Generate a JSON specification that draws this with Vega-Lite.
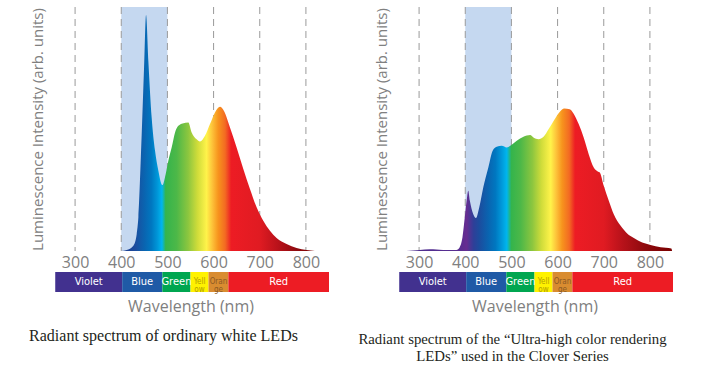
{
  "$schema": "https://vega.github.io/schema/vega-lite/v6.json",
  "padding": {"left": 29, "top": 6, "right": 0, "bottom": 0},
  "background": "white",
  "config": {"view": {"stroke": null}, "font": "Open Sans"},
  "datasets": {
    "region": [{"wl": 400, "wl2": 500}],
    "grid": [{"wl": 300}, {"wl": 400}, {"wl": 500}, {"wl": 600}, {"wl": 700}, {"wl": 800}],
    "bands": [
      {"band": "Violet", "start": 257, "end": 402},
      {"band": "Blue", "start": 402, "end": 489},
      {"band": "Green", "start": 489, "end": 550},
      {"band": "Yell\now", "start": 550, "end": 589},
      {"band": "Oran\nge", "start": 589, "end": 632},
      {"band": "Red", "start": 632, "end": 850}
    ],
    "left": [
      {"wl": 399.6, "I": 0}, {"wl": 411.8, "I": 0.4}, {"wl": 426.3, "I": 2.2}, {"wl": 433.5, "I": 7.0},
      {"wl": 437.1, "I": 13.8}, {"wl": 444.3, "I": 47.9}, {"wl": 449.4, "I": 75.2}, {"wl": 453.7, "I": 96.7},
      {"wl": 458.7, "I": 77.9}, {"wl": 465.9, "I": 54.7}, {"wl": 473.2, "I": 41.1}, {"wl": 480.4, "I": 32.9},
      {"wl": 489.0, "I": 27.0}, {"wl": 496.2, "I": 31.5}, {"wl": 502.0, "I": 37.0}, {"wl": 509.2, "I": 42.4},
      {"wl": 516.5, "I": 48.6}, {"wl": 523.7, "I": 51.3}, {"wl": 533.0, "I": 52.3}, {"wl": 545.3, "I": 52.7},
      {"wl": 552.5, "I": 48.6}, {"wl": 563.3, "I": 45.8}, {"wl": 570.6, "I": 44.9}, {"wl": 581.4, "I": 47.2},
      {"wl": 592.2, "I": 52.0}, {"wl": 603.0, "I": 56.8}, {"wl": 613.9, "I": 59.1}, {"wl": 622.5, "I": 57.4},
      {"wl": 635.5, "I": 50.6}, {"wl": 649.9, "I": 42.4}, {"wl": 664.4, "I": 33.6}, {"wl": 678.8, "I": 25.4},
      {"wl": 693.2, "I": 17.9}, {"wl": 707.6, "I": 12.4}, {"wl": 722.1, "I": 8.3}, {"wl": 736.5, "I": 5.3},
      {"wl": 758.1, "I": 2.9}, {"wl": 779.8, "I": 1.2}, {"wl": 801.4, "I": 0.4}, {"wl": 819.5, "I": 0}
    ],
    "right": [
      {"wl": 272.5, "I": 0}, {"wl": 301.4, "I": 0.4}, {"wl": 323, "I": 0.7}, {"wl": 352, "I": 0.4},
      {"wl": 381, "I": 0.4}, {"wl": 388, "I": 1.5}, {"wl": 394, "I": 5.6}, {"wl": 399, "I": 13.8},
      {"wl": 403, "I": 20.6}, {"wl": 406.5, "I": 24.7}, {"wl": 410, "I": 20.6}, {"wl": 417.4, "I": 15.1},
      {"wl": 423.2, "I": 13.5}, {"wl": 430.4, "I": 17.9}, {"wl": 439.1, "I": 26.1}, {"wl": 450, "I": 34.2},
      {"wl": 459.4, "I": 41.1}, {"wl": 468.1, "I": 42.7}, {"wl": 479, "I": 43.1}, {"wl": 489.9, "I": 42.4},
      {"wl": 500.7, "I": 43.5}, {"wl": 511.6, "I": 45.2}, {"wl": 526.1, "I": 46.8}, {"wl": 540.6, "I": 47.5},
      {"wl": 547.8, "I": 46.5}, {"wl": 558.7, "I": 45.8}, {"wl": 569.6, "I": 46.8}, {"wl": 580.4, "I": 49.9},
      {"wl": 591.3, "I": 53.3}, {"wl": 603.6, "I": 56.8}, {"wl": 614.5, "I": 58.4}, {"wl": 626.1, "I": 58.1},
      {"wl": 634.8, "I": 56.3}, {"wl": 645.7, "I": 52.0}, {"wl": 656.5, "I": 46.5}, {"wl": 667.4, "I": 39.7},
      {"wl": 678.3, "I": 34.2}, {"wl": 687, "I": 32.6}, {"wl": 691.3, "I": 32.2}, {"wl": 700, "I": 26.7},
      {"wl": 710.9, "I": 20.6}, {"wl": 721.7, "I": 15.1}, {"wl": 736.2, "I": 10.4}, {"wl": 750.7, "I": 7.2},
      {"wl": 765.2, "I": 5.3}, {"wl": 783.3, "I": 3.5}, {"wl": 801.4, "I": 2.5}, {"wl": 823.2, "I": 1.5},
      {"wl": 846.4, "I": 1.0}, {"wl": 848, "I": 0}
    ]
  },
  "spacing": {"row": 21, "column": 67},
  "bounds": "flush",
  "columns": 2,
  "concat": [
    {
      "width": 277,
      "height": 244,
      "encoding": {
        "x": {"field": "wl", "type": "quantitative", "scale": {"domain": [250, 850], "nice": false, "zero": false},
          "axis": {"values": [300, 400, 500, 600, 700, 800], "title": null, "domain": false, "ticks": false, "grid": false,
            "labelFontSize": 16, "labelColor": "#808080", "labelFont": "Open Sans", "labelPadding": 3}}
      },
      "layer": [
        {"data": {"name": "region"}, "mark": {"type": "rect", "color": "#c5d8f0"}, "encoding": {"x2": {"field": "wl2"}}},
        {"data": {"name": "grid"}, "mark": {"type": "rule", "color": "#9a9a9a", "strokeDash": [7, 5], "strokeWidth": 1}, "encoding": {}},
        {
          "data": {"name": "left"},
          "mark": {"type": "area", "interpolate": "monotone", "color": {"gradient": "linear", "x1": 0, "x2": 1, "y1": 0, "y2": 0, "stops": [
            {"offset": 0, "color": "#1b3a8c"}, {"offset": 0.072, "color": "#1c4c9e"}, {"offset": 0.12, "color": "#0a64b0"},
            {"offset": 0.156, "color": "#0077c0"}, {"offset": 0.187, "color": "#0096d8"}, {"offset": 0.211, "color": "#00b6ee"},
            {"offset": 0.23, "color": "#34b44c"}, {"offset": 0.287, "color": "#4db848"}, {"offset": 0.346, "color": "#8cc63f"},
            {"offset": 0.394, "color": "#cfdc3a"}, {"offset": 0.441, "color": "#fff34a"}, {"offset": 0.47, "color": "#fdc33a"},
            {"offset": 0.501, "color": "#f7941d"}, {"offset": 0.537, "color": "#f36a22"}, {"offset": 0.568, "color": "#ed1c24"},
            {"offset": 0.715, "color": "#e01b22"}, {"offset": 0.811, "color": "#b8121a"}, {"offset": 0.906, "color": "#8e0a0e"},
            {"offset": 1, "color": "#7a0000"}]}},
          "encoding": {
            "y": {"field": "I", "type": "quantitative", "scale": {"domain": [0, 100]},
              "axis": {"title": "Luminescence Intensity (arb. units)", "labels": false, "ticks": false, "domain": false, "grid": false,
                "titleFontSize": 15, "titleColor": "#808080", "titleFont": "Open Sans", "titleFontWeight": "normal", "titlePadding": 7}}
          }
        }
      ]
    },
    {
      "width": 277,
      "height": 244,
      "encoding": {
        "x": {"field": "wl", "type": "quantitative", "scale": {"domain": [250, 850], "nice": false, "zero": false},
          "axis": {"values": [300, 400, 500, 600, 700, 800], "title": null, "domain": false, "ticks": false, "grid": false,
            "labelFontSize": 16, "labelColor": "#808080", "labelFont": "Open Sans", "labelPadding": 3}}
      },
      "layer": [
        {"data": {"name": "region"}, "mark": {"type": "rect", "color": "#c5d8f0"}, "encoding": {"x2": {"field": "wl2"}}},
        {"data": {"name": "grid"}, "mark": {"type": "rule", "color": "#9a9a9a", "strokeDash": [7, 5], "strokeWidth": 1}, "encoding": {}},
        {
          "data": {"name": "right"},
          "mark": {"type": "area", "interpolate": "monotone", "color": {"gradient": "linear", "x1": 0, "x2": 1, "y1": 0, "y2": 0, "stops": [
            {"offset": 0, "color": "#4b2e8f"}, {"offset": 0.204, "color": "#5a2d91"}, {"offset": 0.227, "color": "#662d91"},
            {"offset": 0.253, "color": "#2e3f98"}, {"offset": 0.274, "color": "#1c4c9e"}, {"offset": 0.308, "color": "#0a64b0"},
            {"offset": 0.335, "color": "#0077c0"}, {"offset": 0.357, "color": "#0096d8"}, {"offset": 0.378, "color": "#00b6ee"},
            {"offset": 0.395, "color": "#34b44c"}, {"offset": 0.43, "color": "#4db848"}, {"offset": 0.474, "color": "#8cc63f"},
            {"offset": 0.508, "color": "#cfdc3a"}, {"offset": 0.543, "color": "#fff34a"}, {"offset": 0.564, "color": "#fdc33a"},
            {"offset": 0.586, "color": "#f7941d"}, {"offset": 0.613, "color": "#f36a22"}, {"offset": 0.635, "color": "#ed1c24"},
            {"offset": 0.743, "color": "#e01b22"}, {"offset": 0.812, "color": "#b8121a"}, {"offset": 0.899, "color": "#8e0a0e"},
            {"offset": 1, "color": "#7a0000"}]}},
          "encoding": {
            "y": {"field": "I", "type": "quantitative", "scale": {"domain": [0, 100]},
              "axis": {"title": "Luminescence Intensity (arb. units)", "labels": false, "ticks": false, "domain": false, "grid": false,
                "titleFontSize": 15, "titleColor": "#808080", "titleFont": "Open Sans", "titleFontWeight": "normal", "titlePadding": 7}}
          }
        }
      ]
    },
    {
      "width": 277,
      "height": 20,
      "data": {"name": "bands"},
      "transform": [{"calculate": "(datum.start+datum.end)/2", "as": "mid"}],
      "title": {"text": "Radiant spectrum of ordinary white LEDs", "orient": "bottom", "anchor": "middle", "frame": "group", "dx": -27, "offset": 14,
        "font": "Liberation Serif", "fontSize": 16, "fontWeight": "normal", "color": "#231f20"},
      "layer": [
        {"mark": {"type": "rect"},
          "encoding": {
            "x": {"field": "start", "type": "quantitative", "scale": {"domain": [250, 850], "nice": false, "zero": false},
              "axis": {"title": "Wavelength (nm)", "labels": false, "ticks": false, "domain": false, "grid": false,
                "titleFontSize": 16, "titleColor": "#808080", "titleFont": "Open Sans", "titleFontWeight": "normal", "titlePadding": 6}},
            "x2": {"field": "end"},
            "color": {"field": "band", "type": "nominal", "scale": {"domain": ["Violet", "Blue", "Green", "Yell\now", "Oran\nge", "Red"],
              "range": ["#42318f", "#1f5aa6", "#00a650", "#fff200", "#d98c30", "#ed1c24"]}, "legend": null}
          }},
        {"transform": [{"filter": {"field": "band", "oneOf": ["Violet", "Blue", "Green", "Red"]}}],
          "mark": {"type": "text", "color": "#ffffff", "font": "DejaVu Sans Condensed", "fontSize": 11, "baseline": "middle", "align": "center"},
          "encoding": {"x": {"field": "mid", "type": "quantitative"}, "text": {"field": "band"}}},
        {"transform": [{"filter": {"field": "band", "equal": "Yell\now"}}],
          "mark": {"type": "text", "color": "#b3a000", "font": "DejaVu Sans Condensed", "fontSize": 8, "lineHeight": 7.5, "lineBreak": "\n", "baseline": "middle", "align": "center"},
          "encoding": {"x": {"field": "mid", "type": "quantitative"}, "text": {"field": "band"}}},
        {"transform": [{"filter": {"field": "band", "equal": "Oran\nge"}}],
          "mark": {"type": "text", "color": "#8c5a24", "font": "DejaVu Sans Condensed", "fontSize": 8, "lineHeight": 7.5, "lineBreak": "\n", "baseline": "middle", "align": "center"},
          "encoding": {"x": {"field": "mid", "type": "quantitative"}, "text": {"field": "band"}}}
      ]
    },
    {
      "width": 277,
      "height": 20,
      "data": {"name": "bands"},
      "transform": [{"calculate": "(datum.start+datum.end)/2", "as": "mid"}],
      "title": {"text": ["Radiant spectrum of the “Ultra-high color rendering", "LEDs” used in the Clover Series"], "orient": "bottom", "anchor": "middle", "frame": "group", "dx": -22, "offset": 18,
        "font": "Liberation Serif", "fontSize": 14.8, "lineHeight": 17, "fontWeight": "normal", "color": "#231f20"},
      "layer": [
        {"mark": {"type": "rect"},
          "encoding": {
            "x": {"field": "start", "type": "quantitative", "scale": {"domain": [250, 850], "nice": false, "zero": false},
              "axis": {"title": "Wavelength (nm)", "labels": false, "ticks": false, "domain": false, "grid": false,
                "titleFontSize": 16, "titleColor": "#808080", "titleFont": "Open Sans", "titleFontWeight": "normal", "titlePadding": 6}},
            "x2": {"field": "end"},
            "color": {"field": "band", "type": "nominal", "scale": {"domain": ["Violet", "Blue", "Green", "Yell\now", "Oran\nge", "Red"],
              "range": ["#42318f", "#1f5aa6", "#00a650", "#fff200", "#d98c30", "#ed1c24"]}, "legend": null}
          }},
        {"transform": [{"filter": {"field": "band", "oneOf": ["Violet", "Blue", "Green", "Red"]}}],
          "mark": {"type": "text", "color": "#ffffff", "font": "DejaVu Sans Condensed", "fontSize": 11, "baseline": "middle", "align": "center"},
          "encoding": {"x": {"field": "mid", "type": "quantitative"}, "text": {"field": "band"}}},
        {"transform": [{"filter": {"field": "band", "equal": "Yell\now"}}],
          "mark": {"type": "text", "color": "#b3a000", "font": "DejaVu Sans Condensed", "fontSize": 8, "lineHeight": 7.5, "lineBreak": "\n", "baseline": "middle", "align": "center"},
          "encoding": {"x": {"field": "mid", "type": "quantitative"}, "text": {"field": "band"}}},
        {"transform": [{"filter": {"field": "band", "equal": "Oran\nge"}}],
          "mark": {"type": "text", "color": "#8c5a24", "font": "DejaVu Sans Condensed", "fontSize": 8, "lineHeight": 7.5, "lineBreak": "\n", "baseline": "middle", "align": "center"},
          "encoding": {"x": {"field": "mid", "type": "quantitative"}, "text": {"field": "band"}}}
      ]
    }
  ]
}
